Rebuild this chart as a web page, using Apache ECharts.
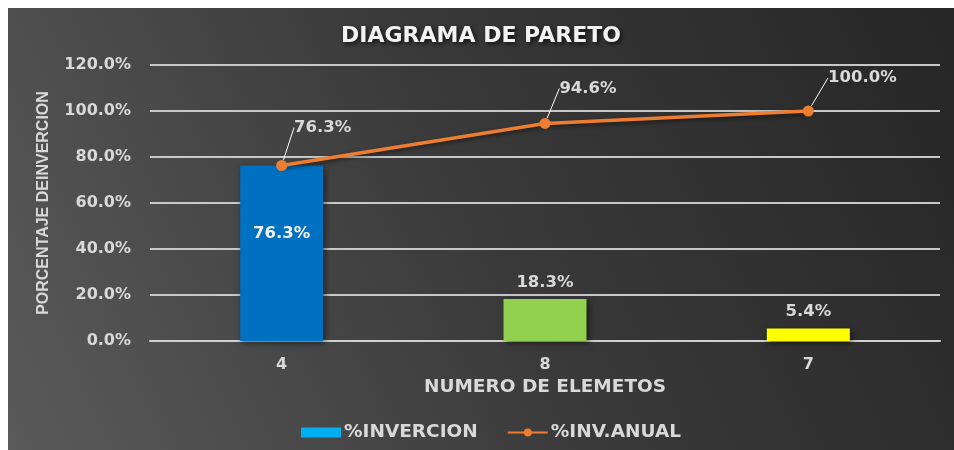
<!DOCTYPE html>
<html>
<head>
<meta charset="utf-8">
<script src="https://cdn.jsdelivr.net/npm/echarts@6/dist/echarts.min.js"></script>
<style>
html,body{margin:0;padding:0;background:#fff;}
#c{position:absolute;left:8px;top:8px;width:946px;height:442px;}
</style>
</head>
<body>
<div id="c"></div>
<script>
const categories = ['4', '8', '7'];
const pctInversion = [76.3, 18.3, 5.4];
const pctAnual = [76.3, 94.6, 100.0];
const barColors = ['#0070C0', '#92D050', '#FFFF00'];
const yTicks = { min: 0, max: 120, interval: 20 };

const WIDE = '"DejaVu Sans", Verdana, sans-serif';
const NARROW = '"Liberation Sans", Arial, sans-serif';
const TXT = '#d9d9d9';
const lineLabelShift = [[41, -19], [43, -16], [54, -14]];

const chart = echarts.init(document.getElementById('c'), null, { renderer: 'canvas' });
chart.setOption({
  backgroundColor: {
    type: 'linear', x: 0, y: 1, x2: 1, y2: 0,
    colorStops: [
      { offset: 0, color: '#5a5a5a' },
      { offset: 0.5, color: '#3a3a3a' },
      { offset: 1, color: '#262626' }
    ]
  },
  animation: false,
  title: {
    text: 'DIAGRAMA DE PARETO',
    left: 'center',
    top: 12,
    textStyle: {
      fontFamily: WIDE, fontWeight: 'bold', fontSize: 22, color: '#f2f2f2',
      textShadowColor: 'rgba(0,0,0,0.7)', textShadowBlur: 4, textShadowOffsetX: 2, textShadowOffsetY: 2
    }
  },
  legend: {
    bottom: 3,
    left: 288,
    itemGap: 29,
    itemWidth: 40,
    itemHeight: 10,
    textStyle: { fontFamily: WIDE, fontWeight: 'bold', fontSize: 18.5, color: TXT, padding: [0, 0, 0, -2] },
    data: [
      { name: '%INVERCION', icon: 'rect' },
      { name: '%INV.ANUAL' }
    ]
  },
  grid: { left: 142, right: 14, top: 57, bottom: 109 },
  xAxis: {
    type: 'category',
    data: categories,
    name: 'NUMERO DE ELEMETOS',
    nameLocation: 'middle',
    nameGap: 36,
    nameTextStyle: { fontFamily: WIDE, fontWeight: 'bold', fontSize: 18.5, color: TXT },
    axisLine: { lineStyle: { color: '#d0d0d0', width: 2 } },
    axisTick: { show: false },
    axisLabel: { fontFamily: WIDE, fontWeight: 'bold', fontSize: 16, color: TXT, margin: 16 }
  },
  yAxis: {
    type: 'value',
    min: yTicks.min, max: yTicks.max, interval: yTicks.interval,
    name: 'PORCENTAJE DEINVERCION',
    nameLocation: 'middle',
    nameGap: 98,
    nameRotate: 90,
    nameTextStyle: { fontFamily: NARROW, fontWeight: 'bold', fontSize: 16, color: TXT },
    axisLine: { show: false },
    axisTick: { show: false },
    splitLine: { lineStyle: { color: '#c8c8c8', width: 2 } },
    axisLabel: {
      fontFamily: WIDE, fontWeight: 'bold', fontSize: 16, color: TXT, margin: 19,
      formatter: v => v.toFixed(1) + '%'
    }
  },
  series: [
    {
      name: '%INVERCION',
      type: 'bar',
      barWidth: 83,
      itemStyle: { color: '#00B0F0' },
      data: pctInversion.map((v, i) => ({
        value: v,
        itemStyle: {
          color: barColors[i],
          shadowColor: 'rgba(0,0,0,0.55)', shadowBlur: 6, shadowOffsetX: 2, shadowOffsetY: 2
        },
        label: i === 0 ? { position: 'inside', offset: [0, -20], color: '#f2f2f2' } : { position: 'top' }
      })),
      label: {
        show: true,
        distance: 8,
        fontFamily: WIDE, fontWeight: 'bold', fontSize: 16.5, color: TXT,
        formatter: p => p.value.toFixed(1) + '%'
      }
    },
    {
      name: '%INV.ANUAL',
      type: 'line',
      data: pctAnual,
      symbol: 'circle',
      symbolSize: 11,
      itemStyle: { color: '#ED7D31' },
      lineStyle: { color: '#ED7D31', width: 3.5, shadowColor: 'rgba(0,0,0,0.5)', shadowBlur: 4, shadowOffsetY: 2 },
      label: {
        show: true,
        position: 'top',
        fontFamily: WIDE, fontWeight: 'bold', fontSize: 16.5, color: TXT,
        formatter: p => p.value.toFixed(1) + '%'
      },
      labelLine: { show: true, lineStyle: { color: '#ffffff', width: 1 } },
      labelLayout: p => ({ dx: lineLabelShift[p.dataIndex][0], dy: lineLabelShift[p.dataIndex][1] })
    }
  ]
});
</script>
</body>
</html>
